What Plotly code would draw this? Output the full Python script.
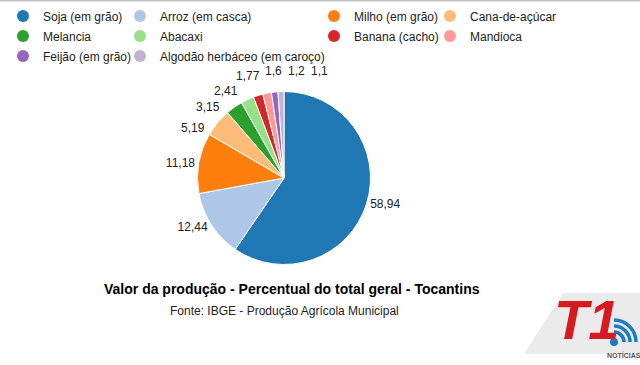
import plotly.graph_objects as go

categories = ["Soja (em grão)", "Arroz (em casca)", "Milho (em grão)", "Cana-de-açúcar",
              "Melancia", "Abacaxi", "Banana (cacho)", "Mandioca",
              "Feijão (em grão)", "Algodão herbáceo (em caroço)"]
values = [58.94, 12.44, 11.18, 5.19, 3.15, 2.41, 1.77, 1.6, 1.2, 1.1]
colors = ["#1f77b4", "#aec7e8", "#ff7f0e", "#ffbb78", "#2ca02c",
          "#98df8a", "#d62728", "#ff9896", "#9467bd", "#c5b0d5"]
title_text = "Valor da produção - Percentual do total geral - Tocantins"
source_text = "Fonte: IBGE - Produção Agrícola Municipal"

W, H = 640, 365
def fx(x): return x / W
def fy(y): return 1 - y / H

# layout geometry (pixels)
cx, cy, r = 284, 178, 86.5
legend_cols_px = [3, 120, 314, 430]          # left edge of each legend column
n_outside = 3                                 # slices labelled by plotly itself
small_label_pos = [(192.5, 127.5), (207.5, 107), (226, 91), (247.5, 76.5),
                   (273, 71), (296, 71), (319, 71)]  # crowded slices' label spots

def fmt(v):
    return f"{v:g}".replace(".", ",")

fig = go.Figure()
fig.add_trace(go.Pie(
    labels=categories, values=values, sort=False, direction="clockwise", rotation=0,
    marker=dict(colors=colors, line=dict(color="white", width=1)),
    textposition=["outside"] * n_outside + ["none"] * (len(values) - n_outside),
    texttemplate="%{value}",
    textfont=dict(family="Arial", size=12, color="#222"),
    showlegend=False, hoverinfo="label+value",
    domain=dict(x=[fx(cx - r), fx(cx + r)], y=[fy(cy + r), fy(cy - r)]),
))
legend_names = ["legend", "legend2", "legend3", "legend4"]
for i, (c, col) in enumerate(zip(categories, colors)):
    fig.add_trace(go.Scatter(x=[None], y=[None], mode="markers", name=c,
                             legend=legend_names[i % 4], legendgroup=c,
                             marker=dict(symbol="circle", size=12, color=col)))

legend_common = dict(orientation="v", y=fy(1.5), xanchor="left", yanchor="top",
                     font=dict(family="Arial", size=12, color="#222"),
                     bgcolor="rgba(0,0,0,0)", tracegroupgap=1, borderwidth=0)
layout_legends = {}
for name, lx in zip(legend_names, legend_cols_px):
    layout_legends[name] = dict(x=fx(lx), **legend_common)

shapes = [
    dict(type="line", xref="paper", yref="paper", x0=0, x1=1, y0=fy(0.75), y1=fy(0.75),
         line=dict(color="#c0c0c0", width=1.5)),
    dict(type="path", xref="paper", yref="paper",
         path=f"M {fx(563)} {fy(293)} L {fx(640)} {fy(293)} L {fx(640)} {fy(354)} L {fx(524)} {fy(354)} Z",
         fillcolor="#ebebeb", line=dict(width=0), layer="below"),
    dict(type="circle", xref="paper", yref="paper", x0=fx(610), x1=fx(618), y0=fy(346), y1=fy(338),
         fillcolor="#1a7cc2", line=dict(width=0)),
]
k = 0.5523
ox, oy = 614, 342
for rr in [10, 16, 22]:
    shapes.append(dict(
        type="path", xref="paper", yref="paper",
        path=(f"M {fx(ox)} {fy(oy - rr)} C {fx(ox + k * rr)} {fy(oy - rr)} "
              f"{fx(ox + rr)} {fy(oy - k * rr)} {fx(ox + rr)} {fy(oy)}"),
        line=dict(color="#1a7cc2", width=3.5)))

annotations = [
    dict(text="<b>" + title_text + "</b>", x=fx(291.5), y=fy(289), xref="paper", yref="paper",
         xanchor="center", yanchor="middle", showarrow=False,
         font=dict(family="Arial", size=14, color="#000")),
    dict(text=source_text, x=fx(284), y=fy(311), xref="paper", yref="paper",
         xanchor="center", yanchor="middle", showarrow=False,
         font=dict(family="Arial", size=12, color="#222")),
    dict(text="T1", x=fx(586), y=fy(319), xref="paper", yref="paper", showarrow=False,
         xanchor="center", yanchor="middle",
         font=dict(family="Liberation Sans Narrow, Arial Narrow, Arial", size=56,
                   color="#d71920", weight=900, style="italic")),
    dict(text="<b>NOTÍCIAS</b>", x=fx(624), y=fy(355), xref="paper", yref="paper",
         xanchor="center", yanchor="middle", showarrow=False,
         font=dict(family="Arial", size=7, color="#555")),
]
for v, (lx, ly) in zip(values[n_outside:], small_label_pos):
    annotations.append(dict(text=fmt(v), x=fx(lx), y=fy(ly), xref="paper", yref="paper",
                            xanchor="center", yanchor="middle", showarrow=False,
                            font=dict(family="Arial", size=12, color="#222")))

fig.update_layout(
    width=W, height=H, margin=dict(l=0, r=0, t=0, b=0, autoexpand=False),
    paper_bgcolor="white", plot_bgcolor="white",
    separators=",.",
    xaxis=dict(visible=False), yaxis=dict(visible=False),
    shapes=shapes, annotations=annotations,
    **layout_legends,
)
fig.write_html("out.html", config={"displayModeBar": False},
               post_script="document.body.style.margin='0';document.body.style.padding='0';")
